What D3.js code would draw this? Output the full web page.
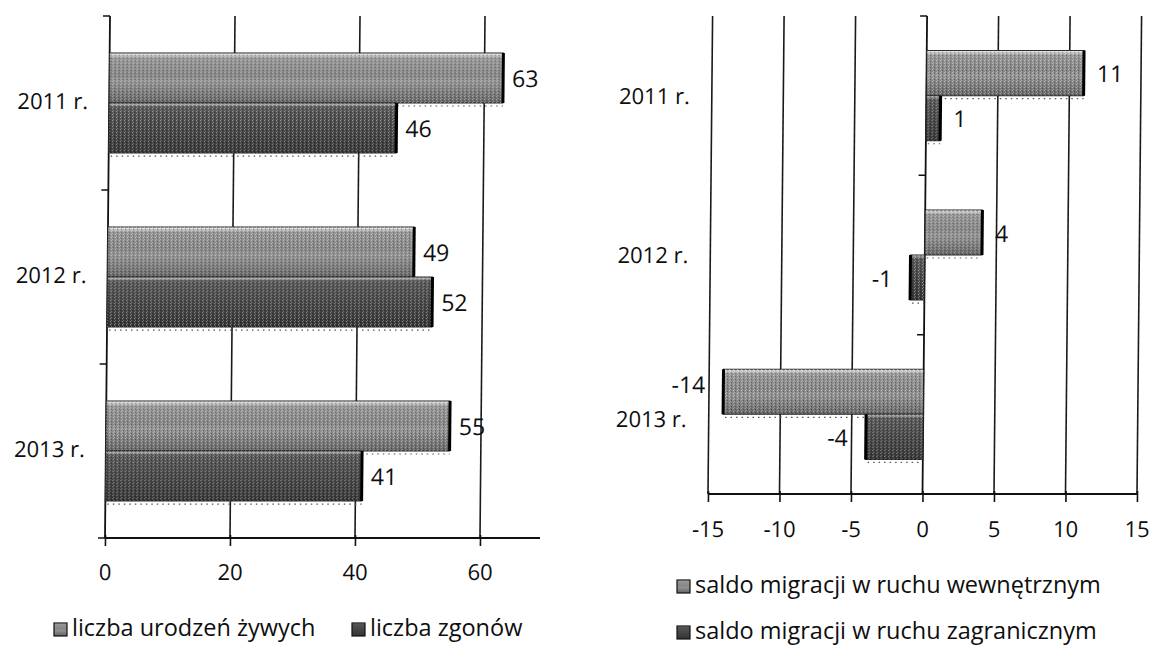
<!DOCTYPE html>
<html><head><meta charset="utf-8">
<script src="https://cdn.jsdelivr.net/npm/d3@7"></script>
<style>
body{margin:0;background:#fff;}
text{font-family:"Open Sans",Lato,sans-serif;fill:#0e0e0e;}
</style></head>
<body><svg id="c" width="1151" height="645"></svg>
<script>
// ---- data ----
const years = ["2011 r.", "2012 r.", "2013 r."];
const births = [63, 49, 55];
const deaths = [46, 52, 41];
const migInternal = [11, 4, -14];
const migForeign = [1, -1, -4];
const leftTicks = [0, 20, 40, 60];
const rightTicks = [-15, -10, -5, 0, 5, 10, 15];
const leftLegend = ["liczba urodzeń żywych", "liczba zgonów"];
const rightLegend = ["saldo migracji w ruchu wewnętrznym", "saldo migracji w ruchu zagranicznym"];

const svg = d3.select("#c");
const defs = svg.append("defs");
function grad(id, stops){
  const g = defs.append("linearGradient").attr("id", id).attr("x1",0).attr("y1",0).attr("x2",0).attr("y2",1);
  stops.forEach(s=>g.append("stop").attr("offset",s[0]).attr("stop-color",s[1]));
}
grad("gA", [[0,"#f2f2f2"],[0.1,"#969696"],[0.45,"#858585"],[0.55,"#939393"],[1,"#636363"]]);
grad("gB", [[0,"#cccccc"],[0.08,"#555"],[0.5,"#454545"],[1,"#333"]]);
// dither-like texture
const pat = defs.append("pattern").attr("id","dots").attr("width",4).attr("height",3).attr("patternUnits","userSpaceOnUse");
pat.append("rect").attr("x",0).attr("y",0).attr("width",1).attr("height",1).attr("fill","#fff").attr("opacity",0.5);
pat.append("rect").attr("x",2).attr("y",1).attr("width",1).attr("height",1).attr("fill","#000").attr("opacity",0.45);
pat.append("rect").attr("x",1).attr("y",2).attr("width",1).attr("height",1).attr("fill","#fff").attr("opacity",0.35);

const SKEW = -0.55; // slight tilt of the scanned original

function chart(cfg){
  const top = cfg.yRange[0], bottom = cfg.yRange[1];
  const g = svg.append("g").attr("transform",`translate(0,${bottom}) skewX(${SKEW}) translate(0,${-bottom})`);
  const x = d3.scaleLinear().domain(cfg.xDomain).range(cfg.xRange);
  const y = d3.scaleBand().domain(years).range(cfg.yRange).padding(0);
  const sub = d3.scaleBand().domain([0,1]).range([0, y.bandwidth()*cfg.groupFrac]);
  const off = y.bandwidth()*(1-cfg.groupFrac)/2;
  // gridlines
  g.selectAll("line.grid").data(cfg.grid).join("line")
    .attr("x1",d=>x(d)).attr("x2",d=>x(d)).attr("y1",top).attr("y2",bottom)
    .attr("stroke","#1a1a1a").attr("stroke-width",1.6);
  // category axis at x(0)
  const x0 = x(0);
  g.append("line").attr("x1",x0).attr("x2",x0).attr("y1",top).attr("y2",bottom).attr("stroke","#111").attr("stroke-width",1.8);
  const bounds = [top].concat(years.map(d=>y(d)+y.bandwidth()));
  g.selectAll("line.ct").data(bounds).join("line")
    .attr("x1",x0-7).attr("x2",x0).attr("y1",d=>d).attr("y2",d=>d).attr("stroke","#111").attr("stroke-width",1.5);
  // bottom axis
  const ax = g.append("g").attr("transform",`translate(0,${bottom})`)
    .call(d3.axisBottom(x).tickValues(cfg.ticks).tickFormat(d=>String(d)).tickSize(8).tickPadding(cfg.tickPad).tickSizeOuter(0));
  ax.select(".domain").attr("stroke","#111").attr("stroke-width",1.8).attr("d",`M${cfg.xRange[0]},0H${cfg.axisEnd}`);
  ax.selectAll(".tick line").attr("stroke","#111").attr("stroke-width",1.6).attr("y1",-3);
  ax.selectAll(".tick text").style("font-size","22px").style("font-family","'Open Sans', sans-serif").attr("fill","#0e0e0e");
  // category labels
  g.selectAll("text.cat").data(years).join("text")
    .attr("x",cfg.catX).attr("y",(d,i)=>y(d)+y.bandwidth()/2+cfg.catDy[i])
    .attr("text-anchor","end").attr("dominant-baseline","middle")
    .style("font-size","22px").text(d=>d);
  // bars
  cfg.series.forEach((s,si)=>{
    const gid = si===0 ? "gA" : "gB";
    const rows = years.map((yr,i)=>({yr, v:s[i]}));
    const by = d=>y(d.yr)+off+sub(si);
    const bg = g.append("g");
    // dotted shadow under each bar
    bg.selectAll("line.sh").data(rows).join("line")
      .attr("x1",d=>Math.min(x(0),x(d.v))+2).attr("x2",d=>Math.max(x(0),x(d.v)))
      .attr("y1",d=>by(d)+sub.bandwidth()+3).attr("y2",d=>by(d)+sub.bandwidth()+3)
      .attr("stroke","#555").attr("stroke-width",1.2).attr("stroke-dasharray","1.5,4");
    bg.selectAll("rect.b").data(rows).join("rect")
      .attr("x",d=>Math.min(x(0),x(d.v))).attr("width",d=>Math.abs(x(d.v)-x(0)))
      .attr("y",by).attr("height",sub.bandwidth())
      .attr("fill",`url(#${gid})`).attr("stroke","#222").attr("stroke-width",1);
    bg.selectAll("rect.t").data(rows).join("rect")
      .attr("x",d=>Math.min(x(0),x(d.v))).attr("width",d=>Math.abs(x(d.v)-x(0)))
      .attr("y",by).attr("height",sub.bandwidth())
      .attr("fill","url(#dots)");
    // dark end edge
    bg.selectAll("line.e").data(rows).join("line")
      .attr("x1",d=>x(d.v)).attr("x2",d=>x(d.v))
      .attr("y1",by).attr("y2",d=>by(d)+sub.bandwidth())
      .attr("stroke","#000").attr("stroke-width",3);
    bg.selectAll("text.v").data(rows).join("text")
      .attr("x",d=>d.v>=0 ? x(d.v)+cfg.posGap : x(d.v)-cfg.negGap)
      .attr("y",d=>by(d)+sub.bandwidth()/2+3 + (d.v<-10 ? -8 : 0))
      .attr("text-anchor",d=>d.v>=0?"start":"end").attr("dominant-baseline","middle")
      .style("font-size","23px").text(d=>d.v);
  });
}

chart({xDomain:[0,70], xRange:[105,542.5], yRange:[16,538], groupFrac:0.575,
  grid:[20,40,60], ticks:leftTicks, axisEnd:540, tickPad:18, catX:84, catDy:[0,0,0],
  posGap:9, negGap:15, series:[births,deaths]});
chart({xDomain:[-15,15], xRange:[708,1137], yRange:[16,494], groupFrac:0.566,
  grid:[-15,-10,-5,5,10,15], ticks:rightTicks, axisEnd:1137, tickPad:19, catX:686, catDy:[2,2,7],
  posGap:13, negGap:18, series:[migInternal,migForeign]});

// legends
function legendItem(xp, yp, label, gid){
  svg.append("rect").attr("x",xp).attr("y",yp-7).attr("width",13).attr("height",13)
    .attr("fill",`url(#${gid})`).attr("stroke","#111").attr("stroke-width",1.2);
  svg.append("text").attr("x",xp+18).attr("y",yp).attr("dominant-baseline","middle")
    .style("font-size","23.5px").text(label);
}
legendItem(54, 630, leftLegend[0], "gA");
legendItem(352, 630, leftLegend[1], "gB");
legendItem(677, 587, rightLegend[0], "gA");
legendItem(677, 633, rightLegend[1], "gB");
</script></body></html>
